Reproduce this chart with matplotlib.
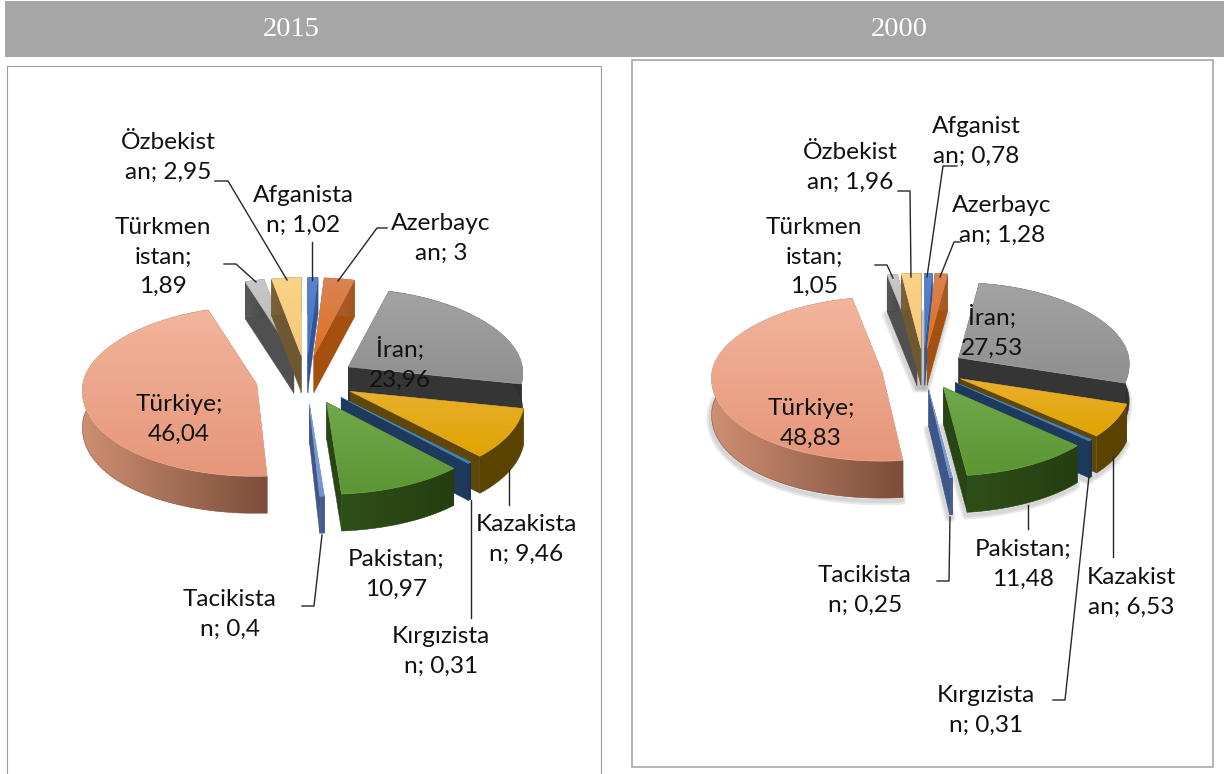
import numpy as np
import matplotlib
matplotlib.use('Agg')
import matplotlib.pyplot as plt
from matplotlib.colors import to_rgb
from matplotlib.patches import Polygon, Rectangle

# ── Data ───────────────────────────────────────────────────────────────────
names_2015 = ['Afganista\nn', 'Azerbayc\nan', 'İran', 'Kazakista\nn', 'Kırgızista\nn',
              'Pakistan', 'Tacikista\nn', 'Türkiye', 'Türkmen\nistan', 'Özbekist\nan']
names_2000 = ['Afganist\nan', 'Azerbayc\nan', 'İran', 'Kazakist\nan', 'Kırgızista\nn',
              'Pakistan', 'Tacikista\nn', 'Türkiye', 'Türkmen\nistan', 'Özbekist\nan']
values_2015 = [1.02, 3, 23.96, 9.46, 0.31, 10.97, 0.4, 46.04, 1.89, 2.95]
values_2000 = [0.78, 1.28, 27.53, 6.53, 0.31, 11.48, 0.25, 48.83, 1.05, 1.96]
years = ['2015', '2000']

# ── Slice colours: top light, top dark, side left, side right, cut face ────
styles = [
    ('#5A85CC', '#3F6DBE', '#3A65AE', '#2F5595', '#2F5595'),
    ('#D98355', '#E0701F', '#B5622B', '#A0561F', '#A5500F'),
    ('#A3A3A3', '#8F8F8F', '#3A3A3A', '#303030', '#353535'),
    ('#E8B02E', '#E0A400', '#5C4400', '#5A4200', '#5E4708'),
    ('#4F8CC8', '#3E7DBC', '#1C3A5C', '#1A3350', '#1D3A5C'),
    ('#72A84C', '#5A9632', '#2F4F18', '#243E10', '#2A4515'),
    ('#8AA6DC', '#7092D2', '#4A6396', '#3E5585', '#3F5688'),
    ('#F2B59C', '#E6967A', '#CE8F72', '#7C4D3A', '#7C4D3A'),
    ('#C8C8C8', '#B5B5B5', '#5A5A5A', '#4A4A4A', '#505050'),
    ('#FBD388', '#F4C877', '#7A6238', '#6A5530', '#6E5832'),
]

# ── Pie geometry in pixels ─────────────────────────────────────────────────
geom_2015 = dict(cx=306, cy=380, rx=174, ry_up=78, ry_down=92, expl=50, depth=37, shadow=False)
geom_2000 = dict(cx=923.5, cy=369, rx=170, ry_up=75, ry_down=89, expl=42, depth=37, shadow=True)
TILT = 0.49
PERSP = 0.07  # far side of the pie is drawn a bit narrower

# ── Label centres and leader lines ─────────────────────────────────────────
label_pos_2015 = [(303, 210), (441, 238), (400, 364), (526, 539), (441, 651),
                  (396, 574), (230, 614), (179, 419), (163, 257), (168, 157)]
label_pos_2000 = [(976, 141), (1002, 220), (992, 332), (1131, 592), (986, 710),
                  (1023, 564), (865, 590), (811, 423), (814, 257), (850, 167)]
leaders_2015 = [
    [(215, 181), (228, 181), (287, 280)], [(312, 242), (312, 280)],
    [(387, 228), (377, 228), (338, 281)], [(224, 264), (236, 264), (256, 282)],
    [(509, 470), (509, 505)], [(471, 500), (471, 618)],
    [(322, 535), (314, 606), (302, 606)],
]
leaders_2000 = [
    [(898, 191), (910, 191), (911, 277)], [(957, 166), (943, 166), (927, 277)],
    [(960, 242), (954, 242), (940, 277)], [(875, 265), (887, 265), (893, 278)],
    [(1028, 505), (1028, 529)], [(1113, 457), (1113, 557)],
    [(1089, 476), (1065, 700), (1053, 700)], [(950, 517), (949, 581), (937, 581)],
]
two_line_value = {'İran', 'Türkiye', 'Pakistan', 'Türkmen\nistan'}

fig = plt.figure(figsize=(12.24, 7.74), dpi=100)
ax = fig.add_axes([0, 0, 1, 1])
ax.axis('off')


def grad_fill(verts, c1, c2, edge, horizontal=False, zorder=2):
    # gradient image clipped to the polygon
    verts = np.asarray(verts)
    t = np.linspace(0, 1, 128)[:, None, None]
    img = (1 - t) * np.array(to_rgb(c1)) + t * np.array(to_rgb(c2))
    if horizontal:
        img = img.transpose(1, 0, 2)
    x0, y0 = verts.min(axis=0)
    x1, y1 = verts.max(axis=0)
    im = ax.imshow(img, extent=[x0, x1 + 0.01, y1 + 0.01, y0], aspect='auto', zorder=zorder,
                   interpolation='bilinear')
    im.set_clip_path(Polygon(verts, transform=ax.transData))
    ax.add_patch(Polygon(verts, fc='none', ec=edge, lw=0.4, zorder=zorder))


def draw_pie(values, g):
    total = sum(values)
    edges = np.cumsum([0] + list(values)) / total * 2 * np.pi
    parts = []
    for i in range(len(values)):
        a0, a1 = edges[i], edges[i + 1]
        mid = (a0 + a1) / 2
        tip = np.array([g['cx'] + g['expl'] * np.sin(mid),
                        g['cy'] - g['expl'] * TILT * np.cos(mid)])
        ang = np.linspace(a0, a1, 80)
        ry = np.where(np.cos(ang) >= 0, g['ry_up'], g['ry_down'])
        arc = np.column_stack([tip[0] + g['rx'] * np.sin(ang) * (1 - PERSP * np.cos(ang)),
                               tip[1] - ry * np.cos(ang)])
        parts.append((tip[1], i, tip, arc))

    down = np.array([0, g['depth']])
    if g['shadow']:
        for _, i, tip, arc in parts:
            outline = np.vstack([tip + down, arc + down]) + np.array([-1, 3])
            for lw in (6, 3):
                ax.add_patch(Polygon(outline, fc='none', ec='#303030', alpha=0.10, lw=lw,
                                     joinstyle='round', zorder=1))

    # back slices first, front slices over them
    for _, i, tip, arc in sorted(parts, key=lambda p: p[0]):
        top_l, top_d, side_l, side_r, cut = styles[i]
        z = 2 + i * 0.01 + tip[1] * 0.001
        for corner in (arc[0], arc[-1]):
            face = [tip, corner, corner + down, tip + down]
            ax.add_patch(Polygon(face, fc=cut, ec=cut, lw=0.3, zorder=z))
        wall = np.vstack([arc, (arc + down)[::-1]])
        grad_fill(wall, side_l, side_r, side_r, horizontal=True, zorder=z + 0.0001)
        grad_fill(np.vstack([tip, arc]), top_l, top_d, top_l, zorder=z + 0.0002)


def draw_labels(names, values, positions, leaders):
    for name, val, (x, y) in zip(names, values, positions):
        sep = ';\n' if name in two_line_value else '; '
        txt = name + sep + str(val).replace('.', ',')
        ax.text(x, y, txt, ha='center', va='center', fontsize=17.6, family='Lato',
                color='#111111', linespacing=1.52, zorder=20)
    for line in leaders:
        xs, ys = zip(*line)
        ax.plot(xs, ys, color='#262626', lw=1.0, zorder=6)


# ── Header band and frames ─────────────────────────────────────────────────
ax.add_patch(Rectangle((5, 1), 1219, 56, fc='#A6A6A6', ec='none', zorder=0))
ax.add_patch(Rectangle((7, 66), 594, 720, fc='white', ec='#9C9C9C', lw=0.8, zorder=0.5))
ax.add_patch(Rectangle((632, 60), 581, 707, fc='white', ec='#A8A8A8', lw=1.2, zorder=0.5))
for year, x in zip(years, (291, 899)):
    ax.text(x, 29, year, color='white', fontsize=20.5, family='Liberation Serif',
            ha='center', va='center', zorder=20)

# ── Pies ───────────────────────────────────────────────────────────────────
draw_pie(values_2015, geom_2015)
draw_pie(values_2000, geom_2000)
draw_labels(names_2015, values_2015, label_pos_2015, leaders_2015)
draw_labels(names_2000, values_2000, label_pos_2000, leaders_2000)

ax.set_xlim(0, 1224)
ax.set_ylim(774, 0)
fig.savefig('out.png', dpi=100, facecolor='white')
